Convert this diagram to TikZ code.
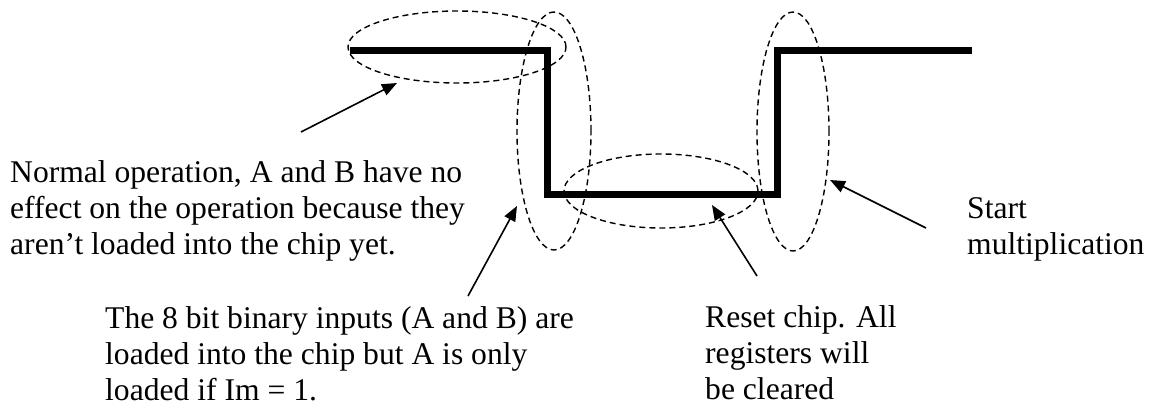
\documentclass[tikz,border=0pt]{standalone}
\usepackage{fontspec}
\setmainfont{Liberation Serif}
\usetikzlibrary{shapes.geometric,arrows.meta}
\begin{document}
\begin{tikzpicture}[x=1pt,y=-1pt,
  wave/.style={line width=7pt, line join=miter},
  oval/.style={draw, ellipse, dash pattern=on 6pt off 4pt, line width=1.4pt, inner sep=0pt, outer sep=0pt},
  pointer/.style={line width=1.6pt, -{Triangle[length=15pt,width=12pt]}},
  lbl/.style={align=left, anchor=north west, inner sep=0pt, font=\fontsize{31.6}{36}\selectfont}]
\useasboundingbox[fill=white] (0,0) rectangle (1152,418);
% waveform
\draw[wave] (350,50) -- (547,50) -- (547,194) -- (777,194) -- (777,50) -- (972,50);
% dashed ovals
\node[oval, minimum width=218pt, minimum height=72pt] (e1) at (457,47) {};
\node[oval, minimum width=74pt, minimum height=238pt] (e2) at (554,131) {};
\node[oval, minimum width=72pt, minimum height=239pt] (e3) at (793,131.5) {};
\node[oval, minimum width=194pt, minimum height=74pt] (e4) at (661,191) {};
% labels
\node[lbl] (tNormal) at (10,160) {Normal operation, A and B have no\\effect on the operation because they\\aren’t loaded into the chip yet.};
\node[lbl] (tBits) at (105,306) {The 8 bit binary inputs (A and B) are\\loaded into the chip but A is only\\loaded if Im = 1.};
\node[lbl] (tReset) at (705,305) {Reset chip. All\\registers will\\be cleared};
\node[lbl] (tStart) at (967,197) {Start\\multiplication};
% arrows
\coordinate (a1s) at (301,132); \coordinate (a1e) at (397,83);
\coordinate (a2s) at (468,296); \coordinate (a2e) at (517,206);
\coordinate (a3s) at (757,276); \coordinate (a3e) at (712,205);
\coordinate (a4s) at (926,228); \coordinate (a4e) at (830,180);
\draw[pointer] (a1s) -- (a1e);
\draw[pointer] (a2s) -- (a2e);
\draw[pointer] (a3s) -- (a3e);
\draw[pointer] (a4s) -- (a4e);
\end{tikzpicture}
\end{document}
